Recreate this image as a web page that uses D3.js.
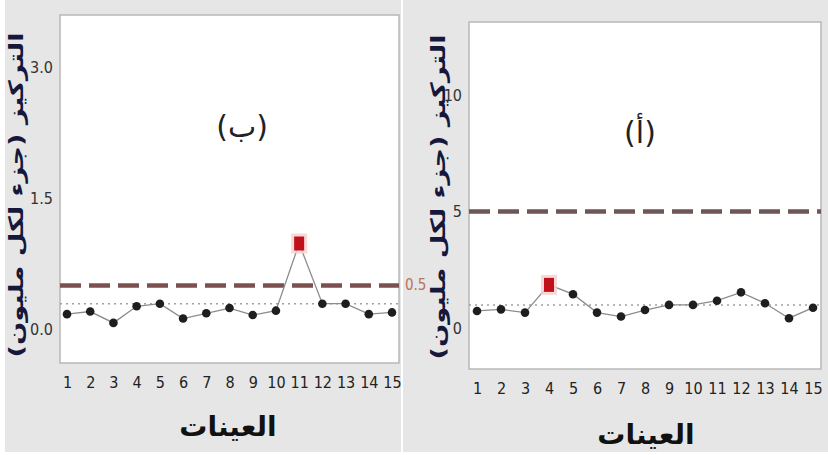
<!DOCTYPE html>
<html>
<head>
<meta charset="utf-8">
<script src="https://cdn.jsdelivr.net/npm/d3@7"></script>
<style>
  body { margin: 0; background: #fff; }
  svg { display: block; }
  .num { font-family: "Liberation Sans Narrow", "DejaVu Sans Condensed", sans-serif; }
  .ar { font-family: "DejaVu Sans", sans-serif; }
</style>
</head>
<body>
<svg id="chart" width="828" height="455"></svg>
<script>
const svg = d3.select("#chart");

// samples 1..15
const samples = [1, 2, 3, 4, 5, 6, 7, 8, 9, 10, 11, 12, 13, 14, 15];

// panel (ب) - left
const valuesB = [0.17, 0.20, 0.07, 0.26, 0.29, 0.12, 0.18, 0.24, 0.16, 0.21, 0.98, 0.29, 0.29, 0.17, 0.19];
const centerB = 0.29;
const limitB = 0.5;
const ticksB = [0, 1.5, 3.0];
const outlierB = [11];

// panel (أ) - right
const valuesA = [0.73, 0.80, 0.66, 1.85, 1.45, 0.66, 0.49, 0.77, 0.99, 0.99, 1.17, 1.53, 1.06, 0.42, 0.87];
const centerA = 0.99;
const limitA = 5;
const ticksA = [0, 5, 10];
const outlierA = [4];

const xTitle = "العينات";
const yTitle = "التركيز (جزء لكل مليون)";

// background blocks
svg.append("rect").attr("x", 5).attr("y", 0).attr("width", 396).attr("height", 452).attr("fill", "#e6e6e6");
svg.append("rect").attr("x", 403).attr("y", 0).attr("width", 425).attr("height", 452).attr("fill", "#e6e6e6");

function drawPanel(cfg) {
  const x = d3.scaleLinear().domain([1, 15]).range(cfg.xr);
  const y = d3.scaleLinear().domain(cfg.yd).range([cfg.bottom, cfg.top]);

  // plot area
  svg.append("rect")
    .attr("x", cfg.left).attr("y", cfg.top)
    .attr("width", cfg.right - cfg.left).attr("height", cfg.bottom - cfg.top)
    .attr("fill", "#fff").attr("stroke", "#b8b8b8").attr("stroke-width", 1.5);

  // y axis labels
  const yAxis = svg.append("g")
    .attr("class", "num")
    .attr("transform", `translate(${cfg.left},0)`)
    .call(d3.axisLeft(y).tickValues(cfg.ticks).tickSize(0).tickPadding(cfg.yPad).tickFormat(cfg.fmt));
  yAxis.select(".domain").remove();
  yAxis.selectAll("text").attr("font-size", 16).attr("fill", "#333");

  // x axis labels
  const xAxis = svg.append("g")
    .attr("class", "num")
    .attr("transform", `translate(0,${cfg.bottom})`)
    .call(d3.axisBottom(x).tickValues(samples).tickSize(0).tickPadding(14).tickFormat(d3.format("d")));
  xAxis.select(".domain").remove();
  xAxis.selectAll("text").attr("font-size", 16).attr("fill", "#222");

  // limit line
  svg.append("line")
    .attr("x1", cfg.left).attr("x2", cfg.right)
    .attr("y1", y(cfg.limit)).attr("y2", y(cfg.limit))
    .attr("stroke", cfg.limitColor).attr("stroke-width", 4.5)
    .attr("stroke-dasharray", "21,8");

  // centre line
  svg.append("line")
    .attr("x1", cfg.left).attr("x2", cfg.right)
    .attr("y1", y(cfg.center)).attr("y2", y(cfg.center))
    .attr("stroke", "#a0a0a0").attr("stroke-width", 1.5)
    .attr("stroke-dasharray", "2,4");

  const pts = samples.map((s, i) => ({ s, v: cfg.values[i] }));

  svg.append("path")
    .datum(pts)
    .attr("fill", "none")
    .attr("stroke", "#8c8c8c")
    .attr("stroke-width", 1.3)
    .attr("d", d3.line().x(d => x(d.s)).y(d => y(d.v)));

  svg.selectAll(null)
    .data(pts.filter(d => !cfg.outliers.includes(d.s)))
    .enter()
    .append("path")
    .attr("transform", d => `translate(${x(d.s)},${y(d.v)})`)
    .attr("d", d3.symbol(d3.symbolCircle, 58))
    .attr("fill", "#1e1e1e");

  const out = pts.filter(d => cfg.outliers.includes(d.s));
  svg.selectAll(null)
    .data(out)
    .enter()
    .append("rect")
    .attr("x", d => x(d.s) - 8).attr("y", d => y(d.v) - 10)
    .attr("width", 16).attr("height", 20)
    .attr("fill", "#f6cfcf").attr("opacity", 0.8);
  svg.selectAll(null)
    .data(out)
    .enter()
    .append("rect")
    .attr("x", d => x(d.s) - 5).attr("y", d => y(d.v) - 7)
    .attr("width", 10).attr("height", 14)
    .attr("fill", "#c0101a");

  // panel label
  svg.append("text")
    .attr("class", "ar")
    .attr("x", cfg.labelPos[0]).attr("y", cfg.labelPos[1])
    .attr("text-anchor", "middle").attr("dominant-baseline", "middle")
    .attr("font-size", 30).attr("fill", "#222")
    .text(cfg.label);

  // x title
  svg.append("text")
    .attr("class", "ar")
    .attr("x", cfg.xTitlePos[0]).attr("y", cfg.xTitlePos[1])
    .attr("text-anchor", "middle").attr("dominant-baseline", "middle")
    .attr("font-size", 28).attr("font-weight", "bold").attr("fill", "#111")
    .text(xTitle);

  // y title
  svg.append("text")
    .attr("class", "ar")
    .attr("transform", `translate(${cfg.yTitlePos[0]},${cfg.yTitlePos[1]}) rotate(-90)`)
    .attr("text-anchor", "middle").attr("dominant-baseline", "middle")
    .attr("font-size", 20).attr("font-weight", "bold").attr("fill", "#15183a")
    .attr("textLength", 325).attr("lengthAdjust", "spacingAndGlyphs")
    .text(yTitle);

  return { x, y };
}

const left = drawPanel({
  left: 60, right: 399, top: 15, bottom: 363,
  xr: [67, 392], yd: [-0.39, 3.6],
  values: valuesB, center: centerB, limit: limitB, ticks: ticksB, outliers: outlierB,
  fmt: d3.format(".1f"), yPad: 7, limitColor: "#7d5050",
  label: "(ب)", labelPos: [242, 128], xTitlePos: [228, 428], yTitlePos: [17, 195]
});

svg.append("text")
  .attr("class", "num")
  .attr("x", 405).attr("y", left.y(limitB))
  .attr("dominant-baseline", "middle")
  .attr("font-size", 15).attr("fill", "#b8735c")
  .text(limitB);

drawPanel({
  left: 469, right: 821, top: 22, bottom: 369,
  xr: [477, 813], yd: [-1.76, 13.13],
  values: valuesA, center: centerA, limit: limitA, ticks: ticksA, outliers: outlierA,
  fmt: d3.format("d"), yPad: 7, limitColor: "#6e5656",
  label: "(أ)", labelPos: [640, 134], xTitlePos: [646, 436], yTitlePos: [439, 197]
});
</script>
</body>
</html>
